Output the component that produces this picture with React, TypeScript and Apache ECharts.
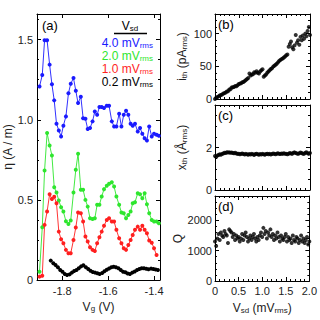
import React, { useEffect, useRef } from 'react';
import * as echarts from 'echarts';

// Panel (a): gate voltage grid (V) shared by the 4.0 / 2.0 / 1.0 mV traces
const gateV = [
  -1.899, -1.887, -1.877, -1.866, -1.855, -1.845, -1.835, -1.825, -1.815, -1.805,
  -1.795, -1.784, -1.773, -1.763, -1.751, -1.741, -1.731, -1.719, -1.709, -1.699,
  -1.689, -1.679, -1.668, -1.658, -1.648, -1.638, -1.628, -1.618, -1.606, -1.596,
  -1.584, -1.574, -1.564, -1.552, -1.542, -1.532, -1.522, -1.512, -1.502, -1.493,
  -1.483, -1.471, -1.461, -1.451, -1.441, -1.431, -1.421, -1.410, -1.400, -1.389,
  -1.379,
];
const eta40 = [
  1.208, 1.279, 1.496, 1.496, 1.344, 1.221, 1.121, 0.975, 0.933, 0.896,
  0.963, 1.021, 1.165, 1.225, 1.260, 1.181, 1.104, 1.144, 1.010, 1.006,
  0.942, 0.948, 0.990, 1.052, 1.031, 1.079, 1.079, 1.073, 1.088, 1.088,
  0.990, 0.958, 0.958, 1.038, 0.958, 1.031, 1.056, 1.031, 0.975, 0.963,
  0.975, 0.927, 0.948, 0.913, 0.885, 0.871, 0.958, 0.896, 0.913, 0.906,
  0.900,
];
const eta20 = [
  0.052, 0.329, 0.683, 0.917, 0.840, 0.777, 0.579, 0.546, 0.496, 0.454,
  0.427, 0.367, 0.350, 0.371, 0.546, 0.688, 0.788, 0.563, 0.563, 0.500,
  0.458, 0.385, 0.381, 0.385, 0.469, 0.469, 0.521, 0.567, 0.588, 0.600,
  0.610, 0.583, 0.521, 0.469, 0.421, 0.417, 0.385, 0.406, 0.427, 0.479,
  0.485, 0.542, 0.535, 0.510, 0.542, 0.473, 0.417, 0.375, 0.365, 0.365,
  0.354,
];
const eta10 = [
  0.021, 0.027, 0.344, 0.427, 0.535, 0.506, 0.520, 0.479, 0.302, 0.254,
  0.229, 0.188, 0.167, 0.167, 0.250, 0.327, 0.421, 0.417, 0.365, 0.271,
  0.240, 0.204, 0.188, 0.181, 0.229, 0.267, 0.302, 0.338, 0.375, 0.385,
  0.365, 0.365, 0.313, 0.260, 0.229, 0.198, 0.188, 0.219, 0.250, 0.281,
  0.313, 0.333, 0.313, 0.338, 0.313, 0.292, 0.246, 0.233, 0.198, 0.156,
];
const gate02 = [
  -1.850, -1.839, -1.829, -1.819, -1.809, -1.799, -1.789, -1.779, -1.768, -1.758,
  -1.748, -1.738, -1.728, -1.718, -1.708, -1.697, -1.687, -1.677, -1.667, -1.657,
  -1.647, -1.637, -1.626, -1.616, -1.606, -1.596, -1.586, -1.576, -1.566, -1.555,
  -1.545, -1.535, -1.525, -1.515, -1.505, -1.495, -1.484, -1.474, -1.464, -1.454,
  -1.444, -1.434, -1.424, -1.413, -1.403, -1.393, -1.383,
];
const eta02 = [
  0.121, 0.104, 0.094, 0.079, 0.063, 0.052, 0.038, 0.031, 0.035, 0.046,
  0.056, 0.063, 0.073, 0.085, 0.092, 0.080, 0.068, 0.058, 0.050, 0.046,
  0.042, 0.038, 0.044, 0.054, 0.064, 0.072, 0.079, 0.083, 0.080, 0.073,
  0.063, 0.052, 0.048, 0.040, 0.038, 0.046, 0.053, 0.063, 0.068, 0.073,
  0.073, 0.070, 0.067, 0.071, 0.068, 0.066, 0.063,
];

// Panels (b)-(d): source-drain voltage (mV rms)
const vsd = [
  0, 0.025, 0.05, 0.075, 0.1, 0.125, 0.15, 0.175, 0.2, 0.225,
  0.25, 0.275, 0.3, 0.325, 0.35, 0.375, 0.4, 0.425, 0.45, 0.475,
  0.5, 0.525, 0.55, 0.575, 0.6, 0.625, 0.65, 0.675, 0.7, 0.725,
  0.75, 0.775, 0.8, 0.825, 0.85, 0.875, 0.9, 0.925, 0.95, 0.975,
  1.0, 1.025, 1.05, 1.075, 1.1, 1.125, 1.15, 1.175, 1.2, 1.225,
  1.25, 1.275, 1.3, 1.325, 1.35, 1.375, 1.4, 1.425, 1.45, 1.475,
  1.5, 1.525, 1.55, 1.575, 1.6, 1.625, 1.65, 1.675, 1.7, 1.725,
  1.75, 1.775, 1.8, 1.825, 1.85, 1.875, 1.9, 1.925, 1.95, 1.975,
  2.0,
];
const ith = [
  0, 2, 3, 4, 5.5, 6, 7, 8.5, 9, 10,
  11.5, 12, 14.5, 15, 17.5, 18, 18.5, 20, 19.5, 21,
  23, 23.5, 24, 25.5, 26, 27.5, 29, 30.5, 32, 39,
  36, 37.5, 38, 41, 40, 42.5, 40, 39, 42, 44,
  45.5, 34, 36, 37.5, 40, 42, 44, 46, 47, 49.5,
  51, 52.5, 54, 56, 58, 59.5, 61, 62, 63.5, 65,
  67, 68, 80, 84, 88, 79, 76, 82, 98, 86,
  90, 83, 95, 90, 97, 92, 100, 96, 104, 110,
  98,
];
const xth = [
  1.60, 1.55, 1.62, 1.65, 1.68, 1.66, 1.70, 1.72, 1.75, 1.74,
  1.78, 1.76, 1.77, 1.75, 1.76, 1.74, 1.73, 1.75, 1.72, 1.70,
  1.71, 1.68, 1.70, 1.72, 1.69, 1.67, 1.70, 1.68, 1.66, 1.69,
  1.67, 1.70, 1.68, 1.65, 1.69, 1.71, 1.68, 1.66, 1.69, 1.67,
  1.70, 1.68, 1.66, 1.69, 1.71, 1.68, 1.70, 1.67, 1.69, 1.72,
  1.70, 1.68, 1.71, 1.73, 1.70, 1.69, 1.72, 1.70, 1.73, 1.71,
  1.70, 1.68, 1.71, 1.74, 1.72, 1.70, 1.75, 1.77, 1.74, 1.72,
  1.70, 1.73, 1.76, 1.74, 1.71, 1.70, 1.75, 1.78, 1.73, 1.70,
  1.74,
];
const qFactor = [
  1300, 1150, 1400, 1550, 1350, 1600, 1500, 1450, 1650, 1550,
  1500, 1250, 1700, 1650, 1600, 1450, 1550, 1350, 1500, 1400,
  1450, 1300, 1400, 1550, 1350, 1500, 1600, 1450, 1300, 1400,
  1500, 1350, 1450, 1550, 1400, 1300, 1450, 1350, 1500, 1600,
  1450, 1750, 1550, 1650, 1400, 1600, 1500, 1700, 1450, 1550,
  1350, 1500, 1400, 1600, 1450, 1300, 1500, 1400, 1350, 1450,
  1550, 1300, 1450, 1350, 1400, 1250, 1500, 1350, 1300, 1450,
  1400, 1250, 1350, 1500, 1300, 1400, 1250, 1350, 1450, 1200,
  1300,
];

const gateTicks = [-1.8, -1.6, -1.4];
const legendItems = ['4.0', '2.0', '1.0', '0.2'];

const FONT = '"Liberation Sans", Arial, Helvetica, sans-serif';
const BLUE = '#1a1aff';
const GREEN = '#2ee62e';
const RED = '#ff1f1f';
const BLACK = '#000000';
const legendColors = [BLUE, GREEN, RED, BLACK];

const subRich = {
  sub: { fontSize: 8, fontFamily: FONT, verticalAlign: 'bottom', padding: [4, 0, 0, 0] },
};

const zip = (xs: number[], ys: number[]) => ys.map((y, i) => [xs[i], y]);

const fmt1 = (v: number) => (v === 0 ? '0' : v.toFixed(1));

function makeAxis(opts: any, showLabels: boolean, mirror: boolean) {
  return {
    type: 'value',
    axisLine: { show: true, onZero: false, lineStyle: { color: '#000', width: 1 } },
    axisTick: { show: true, inside: true, length: 4, lineStyle: { color: '#000', width: 1 } },
    minorTick: { show: true, splitNumber: 5, length: 2, lineStyle: { color: '#000', width: 1 } },
    splitLine: { show: false },
    axisLabel: {
      show: showLabels && !mirror,
      color: '#222',
      fontSize: 11,
      fontFamily: FONT,
      margin: 4,
      showMaxLabel: false,
    },
    nameTextStyle: { color: '#222', fontSize: 12, fontFamily: FONT, rich: subRich },
    ...opts,
  };
}

export default function App() {
  const ref = useRef<HTMLDivElement>(null);

  useEffect(() => {
    if (!ref.current) return;
    const chart = echarts.init(ref.current, undefined, { renderer: 'svg' });

    const grids = [
      { left: 37, top: 14, width: 123, height: 266 },
      { left: 215, top: 14, width: 95, height: 85 },
      { left: 215, top: 105, width: 95, height: 85 },
      { left: 215, top: 196, width: 95, height: 85 },
    ];

    const xAxes: any[] = [];
    const yAxes: any[] = [];

    // panel (a)
    const gateX = (mirror: boolean) =>
      makeAxis(
        {
          gridIndex: 0,
          position: mirror ? 'top' : 'bottom',
          min: -1.91,
          max: -1.374,
          axisTick: { show: true, inside: true, length: 4, customValues: gateTicks, lineStyle: { color: '#000' } },
          minorTick: { show: false },
          axisLabel: {
            show: !mirror,
            customValues: gateTicks,
            formatter: (v: number) => v.toFixed(1),
            color: '#222',
            fontSize: 11,
            fontFamily: FONT,
            margin: 5,
          },
          name: mirror ? '' : 'V{sub|g} (V)',
          nameLocation: 'middle',
          nameGap: 20,
        },
        true,
        mirror
      );
    xAxes.push(gateX(false), gateX(true));
    const etaY = (mirror: boolean) =>
      makeAxis(
        {
          gridIndex: 0,
          position: mirror ? 'right' : 'left',
          min: 0,
          max: 1.66,
          interval: 0.5,
          minorTick: { show: true, splitNumber: 4, length: 2, lineStyle: { color: '#000' } },
          axisLabel: {
            show: !mirror,
            formatter: fmt1,
            color: '#222',
            fontSize: 11,
            fontFamily: FONT,
            margin: 4,
            showMaxLabel: false,
          },
          name: mirror ? '' : 'η (A / m)',
          nameLocation: 'middle',
          nameGap: 22,
          nameRotate: 90,
        },
        true,
        mirror
      );
    yAxes.push(etaY(false), etaY(true));

    // panels (b)-(d)
    const yCfg = [
      { max: 130, interval: 50, name: 'i{sub|th} (pA{sub|rms})', minor: 5, fmt: (v: number) => String(v) },
      { max: 4, interval: 2, name: 'x{sub|th} (Å{sub|rms})', minor: 4, fmt: (v: number) => String(v) },
      { max: 2800, interval: 1000, name: 'Q', minor: 5, fmt: (v: number) => String(v) },
    ];
    yCfg.forEach((c, k) => {
      const gi = k + 1;
      const last = k === 2;
      [false, true].forEach((mirror) => {
        xAxes.push(
          makeAxis(
            {
              gridIndex: gi,
              position: mirror ? 'top' : 'bottom',
              min: 0,
              max: 2,
              interval: 0.5,
              axisLabel: {
                show: last && !mirror,
                formatter: fmt1,
                color: '#222',
                fontSize: 11,
                fontFamily: FONT,
                margin: 4,
                showMaxLabel: true,
              },
              name: last && !mirror ? 'V{sub|sd} (mV{sub|rms})' : '',
              nameLocation: 'middle',
              nameGap: 21,
            },
            true,
            mirror
          )
        );
        yAxes.push(
          makeAxis(
            {
              gridIndex: gi,
              position: mirror ? 'right' : 'left',
              min: 0,
              max: c.max,
              interval: c.interval,
              minorTick: { show: true, splitNumber: c.minor, length: 2, lineStyle: { color: '#000' } },
              axisLabel: {
                show: !mirror,
                formatter: c.fmt,
                color: '#222',
                fontSize: 11,
                fontFamily: FONT,
                margin: 3,
                showMaxLabel: false,
              },
              name: mirror ? '' : c.name,
              nameLocation: 'middle',
              nameGap: 27,
              nameRotate: 90,
            },
            true,
            mirror
          )
        );
      });
    });

    const lineSeries = (data: number[][], color: string, z: number) => ({
      type: 'line',
      xAxisIndex: 0,
      yAxisIndex: 0,
      data,
      symbol: 'circle',
      symbolSize: 4,
      showSymbol: true,
      z,
      itemStyle: { color },
      lineStyle: { color, width: 0.9 },
    });
    const scatter = (ys: number[], idx: number) => ({
      type: 'scatter',
      xAxisIndex: idx * 2,
      yAxisIndex: idx * 2,
      data: zip(vsd, ys),
      symbol: 'circle',
      symbolSize: 4,
      itemStyle: { color: '#000' },
    });

    const legendGraphics: any[] = legendItems.map((v, i) => ({
      type: 'text',
      x: 153,
      y: 43 + i * 13,
      style: {
        text: v + ' mV{sub|rms}',
        fill: legendColors[i],
        fontSize: 12,
        fontFamily: FONT,
        align: 'right',
        verticalAlign: 'middle',
        rich: subRich,
      },
    }));

    const panelLabel = (t: string, x: number, y: number) => ({
      type: 'text',
      x,
      y,
      style: { text: t, fill: '#000', fontSize: 13, fontFamily: FONT, align: 'left', verticalAlign: 'top' },
    });

    chart.setOption({
      animation: false,
      grid: grids,
      xAxis: xAxes,
      yAxis: yAxes,
      series: [
        lineSeries(zip(gateV, eta20), GREEN, 2),
        lineSeries(zip(gateV, eta10), RED, 3),
        lineSeries(zip(gate02, eta02), BLACK, 4),
        lineSeries(zip(gateV, eta40), BLUE, 5),
        scatter(ith, 1),
        scatter(xth, 2),
        scatter(qFactor, 3),
      ],
      graphic: [
        panelLabel('(a)', 42, 19),
        panelLabel('(b)', 218, 18),
        panelLabel('(c)', 218, 109),
        panelLabel('(d)', 218, 200),
        {
          type: 'text',
          x: 130,
          y: 26,
          style: {
            text: 'V{sub|sd}',
            fill: '#000',
            fontSize: 12,
            fontFamily: FONT,
            align: 'center',
            verticalAlign: 'middle',
            rich: subRich,
          },
        },
        {
          type: 'line',
          shape: { x1: 114, y1: 33.5, x2: 147, y2: 33.5 },
          style: { stroke: '#000', lineWidth: 1.5 },
        },
        ...legendGraphics,
      ],
    });

    return () => chart.dispose();
  }, []);

  return (
    <div
      ref={ref}
      style={{ position: 'fixed', left: 0, top: 0, width: 320, height: 320, background: '#fff' }}
    />
  );
}
